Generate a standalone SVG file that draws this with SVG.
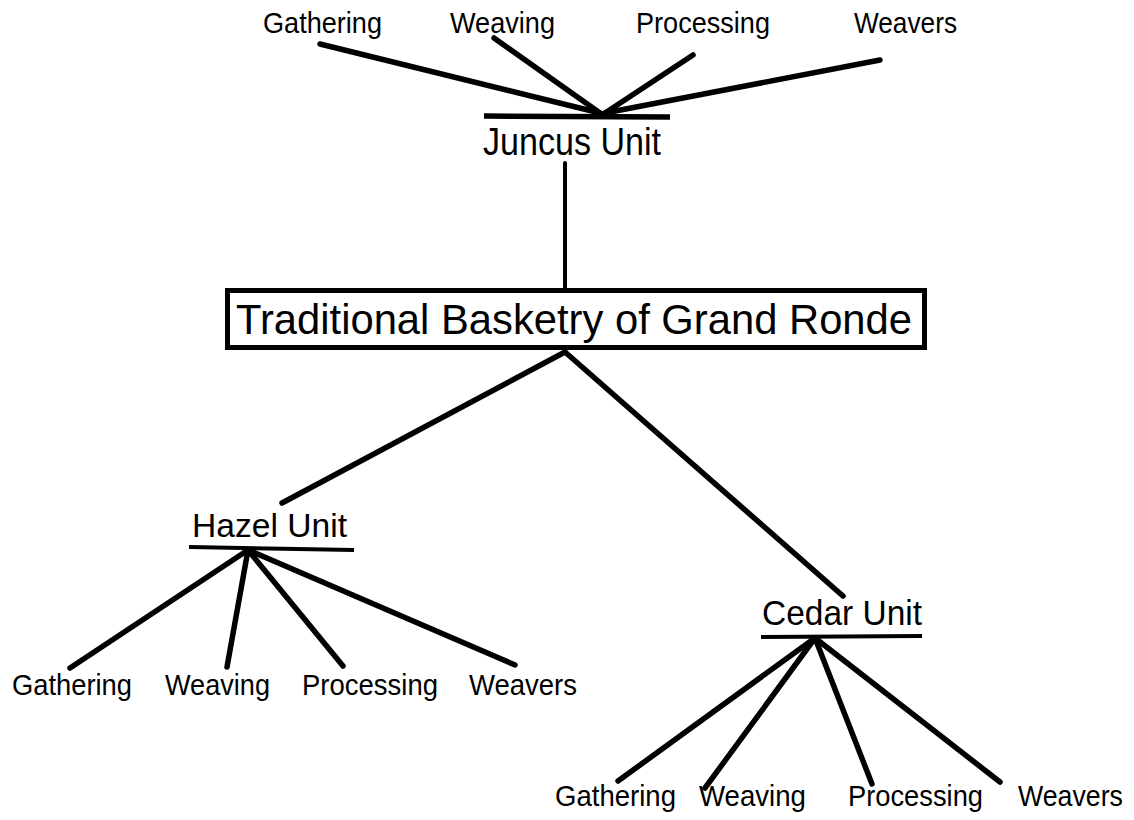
<svg xmlns="http://www.w3.org/2000/svg" width="1134" height="820" viewBox="0 0 1134 820">
<style>
text{font-family:"Liberation Sans",Arial,sans-serif;fill:#000}
.leaf{font-size:30px}
.unit{font-size:35px}
.title{font-size:42px}
.ln{stroke:#000;stroke-width:5.5;stroke-linecap:round;fill:none}
.bar{stroke:#000;stroke-width:4;fill:none}
</style>
<rect width="1134" height="820" fill="#fff"/>
<g id="connectors">
<line class="ln" x1="320" y1="44" x2="600" y2="113"/>
<line class="ln" x1="494" y1="38" x2="600" y2="113"/>
<line class="ln" x1="693" y1="55" x2="605" y2="113"/>
<line class="ln" x1="880" y1="60" x2="605" y2="113"/>
<line class="ln" x1="565" y1="163" x2="565" y2="290" style="stroke-width:4"/>
<line class="ln" x1="565" y1="352" x2="282" y2="503"/>
<line class="ln" x1="565" y1="352" x2="843" y2="596"/>
<line class="ln" x1="248" y1="550" x2="70" y2="668"/>
<line class="ln" x1="248" y1="550" x2="227" y2="667"/>
<line class="ln" x1="248" y1="550" x2="343" y2="666"/>
<line class="ln" x1="248" y1="550" x2="515" y2="665"/>
<line class="ln" x1="815" y1="638" x2="618" y2="781"/>
<line class="ln" x1="815" y1="638" x2="705" y2="788"/>
<line class="ln" x1="815" y1="638" x2="872" y2="784"/>
<line class="ln" x1="815" y1="638" x2="1000" y2="782"/>
</g>
<g id="juncus-leaves">
<text class="leaf" x="263" y="33" textLength="119" lengthAdjust="spacingAndGlyphs">Gathering</text>
<text class="leaf" x="450" y="33" textLength="105" lengthAdjust="spacingAndGlyphs">Weaving</text>
<text class="leaf" x="636" y="33" textLength="134" lengthAdjust="spacingAndGlyphs">Processing</text>
<text class="leaf" x="854" y="33" textLength="103" lengthAdjust="spacingAndGlyphs">Weavers</text>
</g>
<g id="juncus-unit">
<line class="bar" x1="484" y1="116" x2="670" y2="117" style="stroke-width:5.5"/>
<text class="unit" x="483" y="155" textLength="178" lengthAdjust="spacingAndGlyphs" style="font-size:38px">Juncus Unit</text>
</g>
<g id="root">
<rect x="227.5" y="290.5" width="697" height="57" fill="#fff" stroke="#000" stroke-width="5"/>
<text class="title" x="236" y="334" textLength="676" lengthAdjust="spacingAndGlyphs">Traditional Basketry of Grand Ronde</text>
</g>
<g id="hazel-unit">
<text class="unit" x="192" y="537" textLength="155" lengthAdjust="spacingAndGlyphs" style="font-size:33px">Hazel Unit</text>
<line class="bar" x1="189" y1="547" x2="354" y2="550"/>
</g>
<g id="hazel-leaves">
<text class="leaf" x="12" y="695" textLength="120" lengthAdjust="spacingAndGlyphs">Gathering</text>
<text class="leaf" x="165" y="695" textLength="105" lengthAdjust="spacingAndGlyphs">Weaving</text>
<text class="leaf" x="302" y="695" textLength="136" lengthAdjust="spacingAndGlyphs">Processing</text>
<text class="leaf" x="469" y="695" textLength="108" lengthAdjust="spacingAndGlyphs">Weavers</text>
</g>
<g id="cedar-unit">
<text class="unit" x="762" y="625" textLength="160" lengthAdjust="spacingAndGlyphs">Cedar Unit</text>
<line class="bar" x1="761" y1="637" x2="922" y2="636"/>
</g>
<g id="cedar-leaves">
<text class="leaf" x="555" y="806" textLength="121" lengthAdjust="spacingAndGlyphs">Gathering</text>
<text class="leaf" x="699" y="806" textLength="107" lengthAdjust="spacingAndGlyphs">Weaving</text>
<text class="leaf" x="848" y="806" textLength="135" lengthAdjust="spacingAndGlyphs">Processing</text>
<text class="leaf" x="1018" y="806" textLength="105" lengthAdjust="spacingAndGlyphs">Weavers</text>
</g>
</svg>
